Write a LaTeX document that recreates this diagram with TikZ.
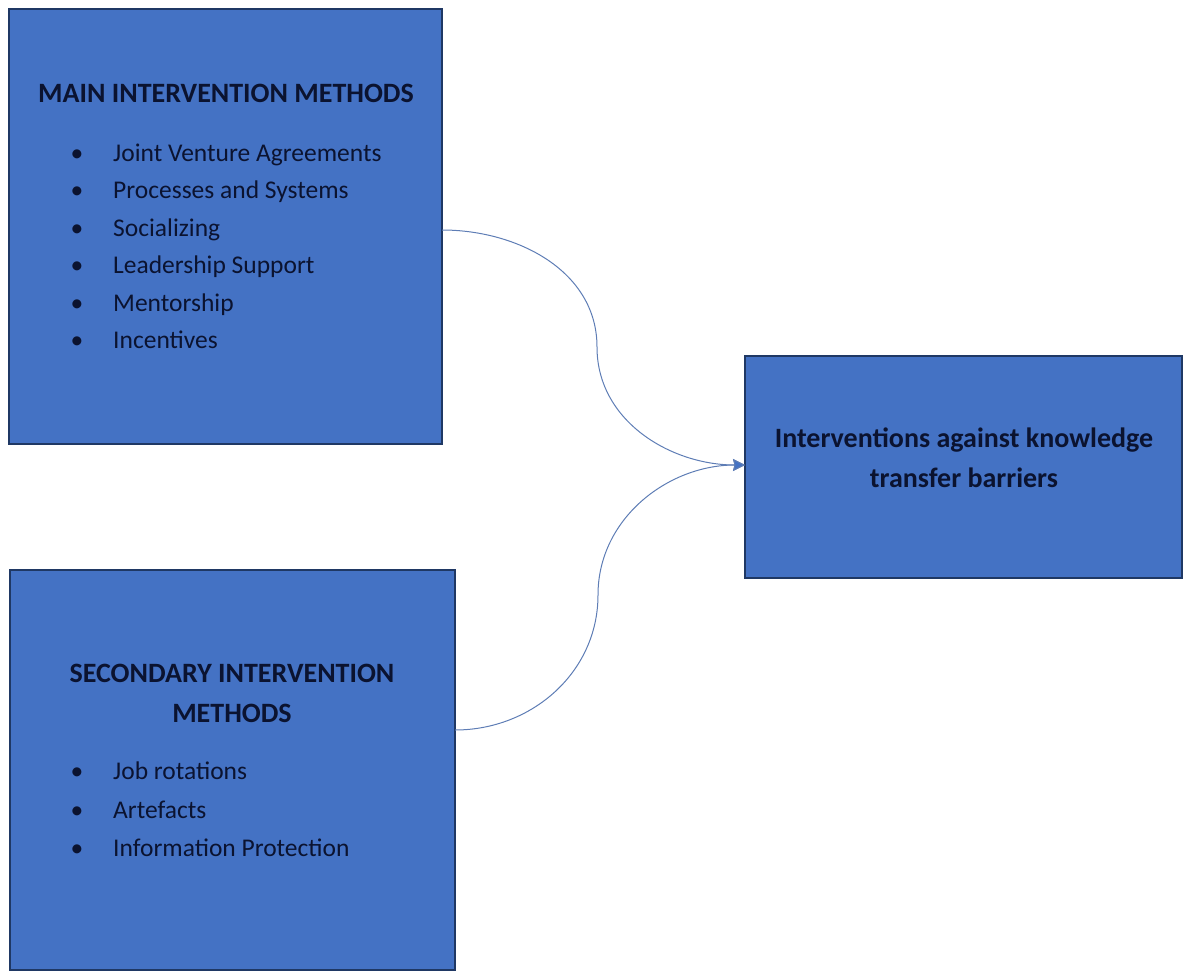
\documentclass[tikz,border=0pt]{standalone}
\usepackage{fontspec}
\setmainfont{Carlito}
\usetikzlibrary{arrows.meta}
\definecolor{boxfill}{HTML}{4472C4}
\definecolor{boxline}{HTML}{1F3864}
\definecolor{txt}{HTML}{0B1330}
\definecolor{link}{HTML}{5E7DB5}
\tikzset{
  box/.style={draw=boxline, line width=2pt, fill=boxfill, rectangle,
    inner sep=0pt, outer sep=0pt, anchor=north west},
  title/.style={text=txt, font=\fontsize{28}{40}\selectfont\bfseries,
    align=center, inner sep=0pt},
  item/.style={text=txt, font=\fontsize{25.5}{30}\selectfont,
    anchor=base west, inner sep=0pt},
  dot/.style={text=txt, font=\fontsize{25.5}{30}\selectfont,
    anchor=base, inner sep=0pt},
  link/.style={draw=link, line width=1pt},
  tip/.style={-{Stealth[length=12pt, width=12pt, inset=1.5pt, fill=boxfill]}}
}
\begin{document}
\begin{tikzpicture}[x=1pt,y=-1pt]
\useasboundingbox (0,0) rectangle (1186,971);

% three boxes
\node[box, minimum width=433pt, minimum height=435pt] (main) at (9,9) {};
\node[box, minimum width=445pt, minimum height=400pt] (sec) at (10,570) {};
\node[box, minimum width=437pt, minimum height=222pt] (goal) at (745,356) {};

% main methods
\node[title, anchor=base] (maint) at (226,103) {MAIN INTERVENTION METHODS};
\foreach \t [count=\i] in {Joint Venture Agreements, Processes and Systems,
    Socializing, Leadership Support, Mentorship, Incentives} {
  \node[dot] (mb\i) at (77,{161.5+37.4*(\i-1)}) {•};
  \node[item] (mi\i) at (113,{161.5+37.4*(\i-1)}) {\t};
}

% secondary methods
\node[title, anchor=base] (sect) at (232,722) {SECONDARY INTERVENTION\\METHODS};
\foreach \t [count=\i] in {Job rotations, Artefacts, Information Protection} {
  \node[dot] (sb\i) at (77,{779.5+38.5*(\i-1)}) {•};
  \node[item] (si\i) at (113,{779.5+38.5*(\i-1)}) {\t};
}

% target
\node[title, anchor=base] (goalt) at (964,487) {Interventions against knowledge\\transfer barriers};

% S-shaped connectors, each vertical at its midpoint
\coordinate (bend1) at (597,347);
\coordinate (bend2) at (598,595);
\draw[link, tip] ([yshift=-3.5pt]main.east) to[out=0, in=90] (bend1)
  to[out=-90, in=180] ([yshift=2pt]goal.west);
\draw[link, tip] ([yshift=40pt]sec.east) to[out=0, in=-90] (bend2)
  to[out=90, in=180] ([yshift=2pt]goal.west);
\end{tikzpicture}
\end{document}
